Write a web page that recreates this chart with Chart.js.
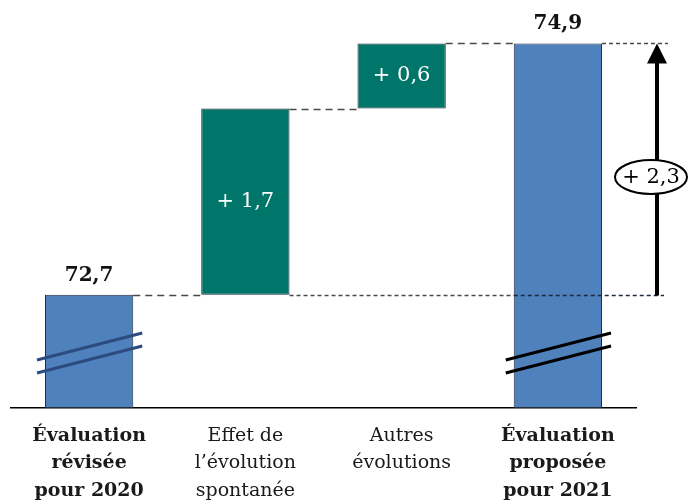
<!DOCTYPE html>
<html lang="fr">
<head>
    <meta charset="UTF-8">
    <title>Évaluation 2021</title>
    <script src="https://cdn.jsdelivr.net/npm/chart.js"></script>
    <style>
        body { margin: 0; background: #fff; }
        #wrap { width: 694px; height: 501px; }
    </style>
</head>
<body>
    <div id="wrap"><canvas id="chart" width="694" height="501"></canvas></div>
    <script>
    // catégories de l'axe
    const categories = [
        ['Évaluation', 'révisée', 'pour 2020'],
        ['Effet de', 'l’évolution', 'spontanée'],
        ['Autres', 'évolutions'],
        ['Évaluation', 'proposée', 'pour 2021']
    ];
    // bas / haut de chaque barre (axe coupé vers 71,7)
    const barLow = [71.71, 72.7, 74.33, 71.71];
    const barHigh = [72.7, 74.33, 74.9, 74.9];
    const barLabels = ['72,7', '+ 1,7', '+ 0,6', '74,9'];
    const totalLabel = '+ 2,3';
    const boldCats = [0, 3];

    const FONT = '"DejaVu Serif", "Liberation Serif", serif';
    const BLUE = '#4F81BD';
    const GREEN = '#00766B';

    // dessine les traits, étiquettes, coupures et la flèche
    const decorations = {
        id: 'decorations',
        afterDatasetsDraw(chart) {
            const ctx = chart.ctx;
            const bars = chart.getDatasetMeta(0).data;
            const ys = chart.scales.y;
            const left = i => bars[i].x - bars[i].width / 2;
            const right = i => bars[i].x + bars[i].width / 2;
            const bottom = chart.chartArea.bottom;

            ctx.save();
            ctx.strokeStyle = '#4a4a4a';
            ctx.lineWidth = 1.3;

            // traits tiretés entre barres
            ctx.setLineDash([7, 5]);
            for (let i = 0; i < 3; i++) {
                const y = Math.round(ys.getPixelForValue(barHigh[i])) + 0.5;
                ctx.beginPath();
                ctx.moveTo(right(i), y);
                ctx.lineTo(left(i + 1), y);
                ctx.stroke();
            }
            // traits fins vers la flèche
            ctx.setLineDash([4, 3]);
            const yLow = Math.round(ys.getPixelForValue(barHigh[0])) + 0.5;
            ctx.beginPath();
            ctx.moveTo(right(1), yLow);
            ctx.lineTo(left(3), yLow);
            ctx.stroke();
            ctx.beginPath();
            ctx.moveTo(left(3), yLow);
            ctx.lineTo(664, yLow);
            ctx.strokeStyle = '#1e2a3a';
            ctx.stroke();
            const yTop = Math.round(ys.getPixelForValue(barHigh[3])) + 0.5;
            ctx.strokeStyle = '#4a4a4a';
            ctx.beginPath();
            ctx.moveTo(right(3), yTop);
            ctx.lineTo(668, yTop);
            ctx.stroke();
            ctx.setLineDash([]);

            // coupures d'axe
            const cuts = [[0, '#2C4C80'], [3, '#000']];
            ctx.lineWidth = 3;
            cuts.forEach(([i, col]) => {
                ctx.strokeStyle = col;
                const x0 = left(i) - 8, x1 = right(i) + 9;
                [0, 13].forEach(off => {
                    ctx.beginPath();
                    ctx.moveTo(x0, bottom - 48 + off);
                    ctx.lineTo(x1, bottom - 75 + off);
                    ctx.stroke();
                });
            });

            // étiquettes des valeurs
            ctx.textAlign = 'center';
            ctx.textBaseline = 'alphabetic';
            ctx.fillStyle = '#111';
            ctx.font = 'bold 20px ' + FONT;
            [0, 3].forEach(i => {
                ctx.fillText(barLabels[i], bars[i].x, bars[i].y - 14);
            });
            ctx.fillStyle = '#fff';
            ctx.font = '21px ' + FONT;
            ctx.textBaseline = 'middle';
            [1, 2].forEach(i => {
                ctx.fillText(barLabels[i], bars[i].x, (bars[i].y + bars[i].base) / 2);
            });

            // flèche de variation totale
            const ax = 657;
            ctx.fillStyle = '#000';
            ctx.fillRect(ax - 2, yTop + 18, 4, yLow - yTop - 18);
            ctx.beginPath();
            ctx.moveTo(ax, yTop);
            ctx.lineTo(ax - 10, yTop + 20);
            ctx.lineTo(ax + 10, yTop + 20);
            ctx.closePath();
            ctx.fill();

            ctx.beginPath();
            ctx.ellipse(651, 177, 36, 17, 0, 0, Math.PI * 2);
            ctx.fillStyle = '#fff';
            ctx.fill();
            ctx.lineWidth = 2;
            ctx.strokeStyle = '#000';
            ctx.stroke();
            ctx.fillStyle = '#000';
            ctx.font = '21px ' + FONT;
            ctx.fillText(totalLabel, 651, 178);
            ctx.restore();
        }
    };

    const ctx = document.getElementById('chart').getContext('2d');
    new Chart(ctx, {
        type: 'bar',
        data: {
            labels: categories,
            datasets: [{
                data: categories.map((c, i) => [barLow[i], barHigh[i]]),
                backgroundColor: [BLUE, GREEN, GREEN, BLUE],
                borderColor: '#1f2d3a',
                borderWidth: 1,
                borderSkipped: false,
                barPercentage: 0.565,
                categoryPercentage: 1
            }]
        },
        options: {
            responsive: false,
            animation: false,
            layout: { padding: { left: 11, right: 58, top: 0, bottom: 0 } },
            plugins: {
                legend: { display: false },
                tooltip: { enabled: false }
            },
            scales: {
                x: {
                    grid: { display: false },
                    border: { display: true, color: '#000', width: 1.5 },
                    ticks: {
                        color: '#1a1a1a',
                        padding: 6,
                        maxRotation: 0,
                        autoSkip: false,
                        font: c => ({
                            family: FONT,
                            size: 19,
                            lineHeight: 1.45,
                            weight: boldCats.includes(c.index) ? 'bold' : 'normal'
                        })
                    },
                    afterFit: s => { s.height = 93; }
                },
                y: { display: false, min: 71.71, max: 75.28 }
            }
        },
        plugins: [decorations]
    });
    </script>
</body>
</html>
